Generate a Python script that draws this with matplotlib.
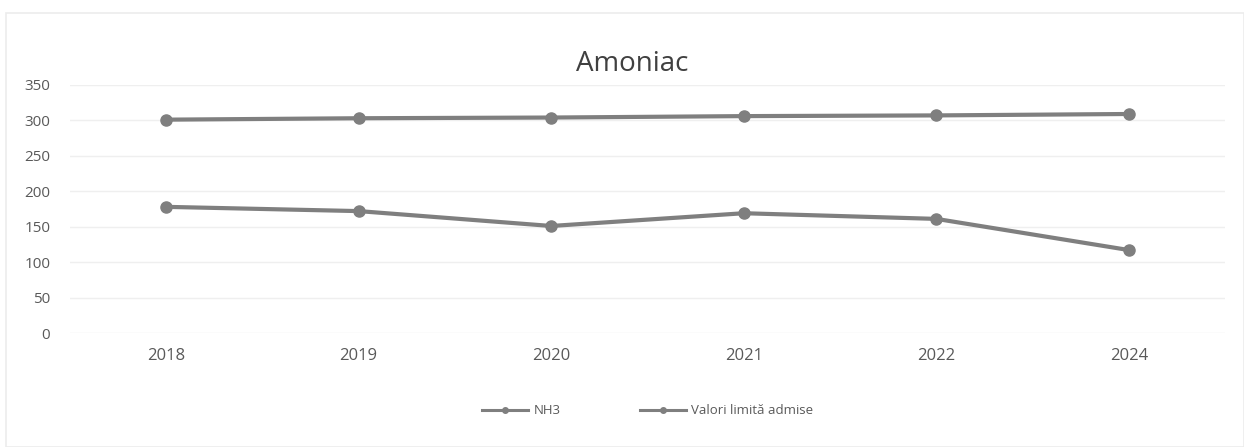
# Amoniac - NH3 vs valori limita admise
import numpy as np
import matplotlib.pyplot as plt
from matplotlib.patches import Rectangle

plt.rcParams['font.family'] = ['Open Sans', 'DejaVu Sans']

# Data
years = ['2018', '2019', '2020', '2021', '2022', '2024']
nh3 = [178, 172, 151, 169, 161, 117]
limite = [301, 303, 304, 306, 307, 309]

grey = '#7f7f7f'
text_grey = '#595959'

fig = plt.figure(figsize=(12.44, 4.47), dpi=100)
fig.patches.append(Rectangle((0.005, 0.0), 0.995, 0.97, transform=fig.transFigure,
                             fill=False, edgecolor='#ececec', linewidth=1.2))

ax = fig.add_axes([0.056, 0.255, 0.929, 0.555])
x = np.arange(len(years))

ax.plot(x, nh3, color=grey, linewidth=3, marker='o', markersize=8, label='NH3')
ax.plot(x, limite, color=grey, linewidth=3, marker='o', markersize=8,
        label='Valori limită admise')

ax.set_xlim(-0.5, len(years) - 0.5)
ax.set_ylim(0, 350)
ax.set_yticks(range(0, 351, 50))
ax.set_xticks(x)
ax.set_xticklabels(years)
ax.yaxis.grid(True, color='#efefef', linewidth=1)
ax.set_axisbelow(True)
for s in ax.spines.values():
    s.set_visible(False)
ax.tick_params(length=0, colors=text_grey, labelsize=11)
ax.tick_params(axis='x', pad=11, labelsize=12)
ax.tick_params(axis='y', pad=14)

ax.set_title('Amoniac', fontsize=20, color='#404040', pad=10, x=0.487)

leg = ax.legend(loc='upper center', bbox_to_anchor=(0.5, -0.24), ncol=2,
                frameon=False, fontsize=9.5, handlelength=3.5, markerscale=0.5,
                columnspacing=6, handletextpad=0.4)
for line in leg.get_lines():
    line.set_linewidth(2.2)
for t in leg.get_texts():
    t.set_color(text_grey)

fig.savefig('out.png', dpi=100, facecolor='white')
